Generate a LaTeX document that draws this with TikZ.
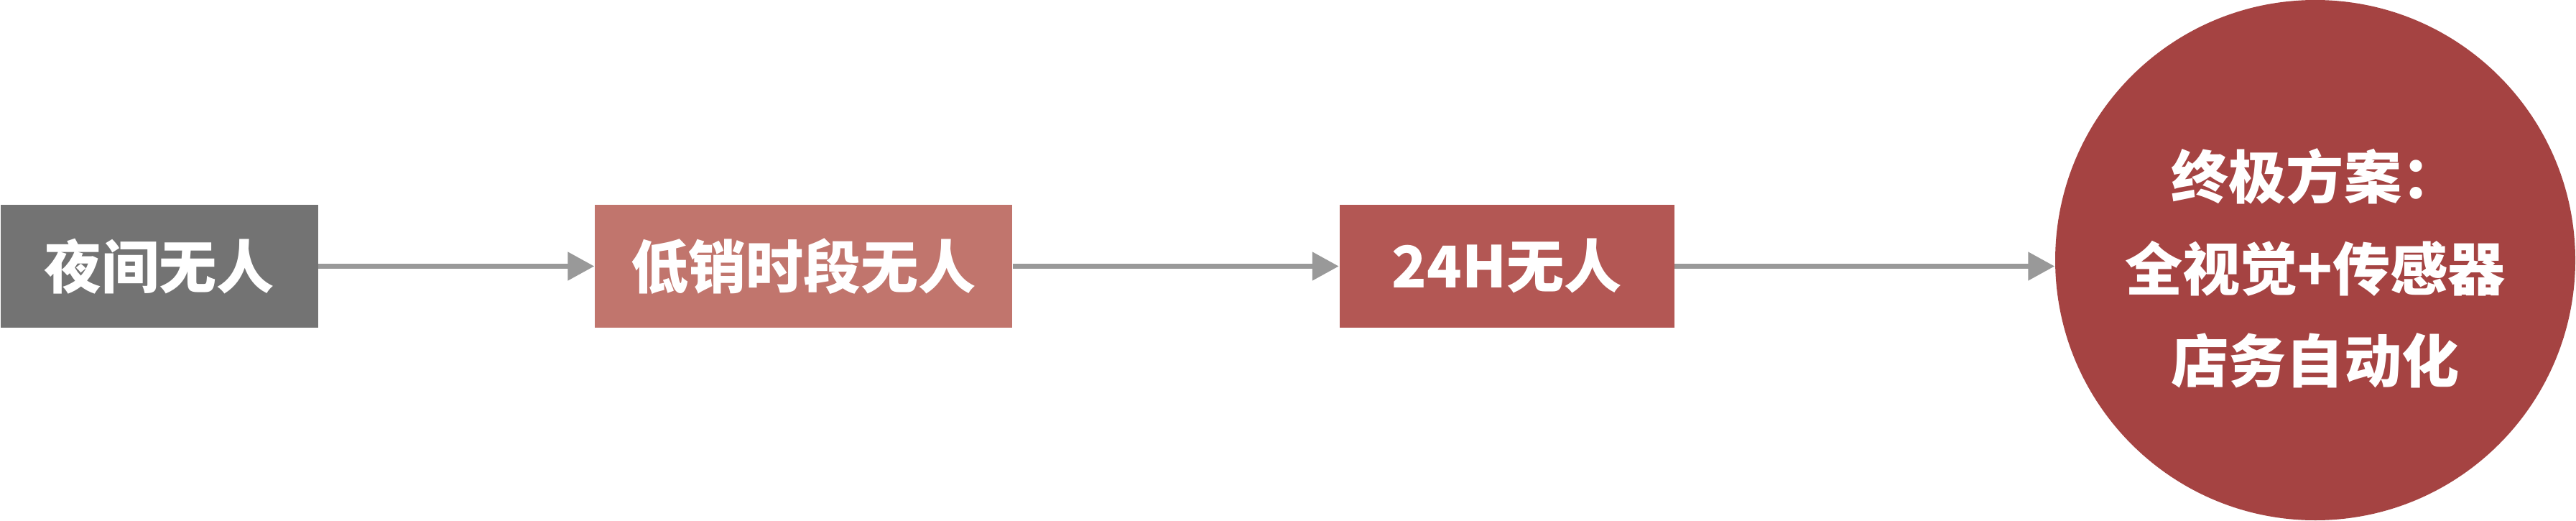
\documentclass[tikz,border=0pt]{standalone}
\usepackage{fontspec}
\newfontfamily\cjkfont{Noto Sans CJK SC}
\definecolor{StageGray}{HTML}{737373}
\definecolor{StagePink}{HTML}{C1756D}
\definecolor{StageRed}{HTML}{B35754}
\definecolor{GoalRed}{HTML}{A54342}
\definecolor{FlowGray}{HTML}{999999}
\usetikzlibrary{arrows.meta, positioning}

\begin{document}
\begin{tikzpicture}[>={Triangle[length=0.37cm, width=0.38cm]},
  stage/.style={rectangle, minimum height=1.71cm, inner sep=0pt, text=white,
    font=\cjkfont\bfseries\fontsize{22.8pt}{27pt}\selectfont},
  flow/.style={->, FlowGray, line width=0.077cm}]
  \useasboundingbox (0,0) rectangle (35.86,7.24);
  % Stages of unmanned operation
  \node[stage, fill=StageGray, minimum width=4.42cm, anchor=west] (night) at (0,3.535) {夜间无人};
  \node[stage, fill=StagePink, minimum width=5.81cm, right=3.84cm of night] (offpeak) {低销时段无人};
  \node[stage, fill=StageRed, minimum width=4.66cm, right=4.54cm of offpeak] (fullday) {24H无人};
  % Final goal
  \node[circle, fill=GoalRed, minimum size=7.24cm, inner sep=0pt, text=white, align=center,
    text height=3.6cm, text depth=0.2cm,
    font=\cjkfont\bfseries\fontsize{22.8pt}{36.4pt}\selectfont] (goal) at (32.23,3.62)
    {终极方案：\\全视觉+传感器\\店务自动化};
  % Arrows
  \draw[flow] (night) -- (offpeak);
  \draw[flow] (offpeak) -- (fullday);
  \draw[flow] (fullday.east) -- (goal.west |- fullday.east);
\end{tikzpicture}
\end{document}
